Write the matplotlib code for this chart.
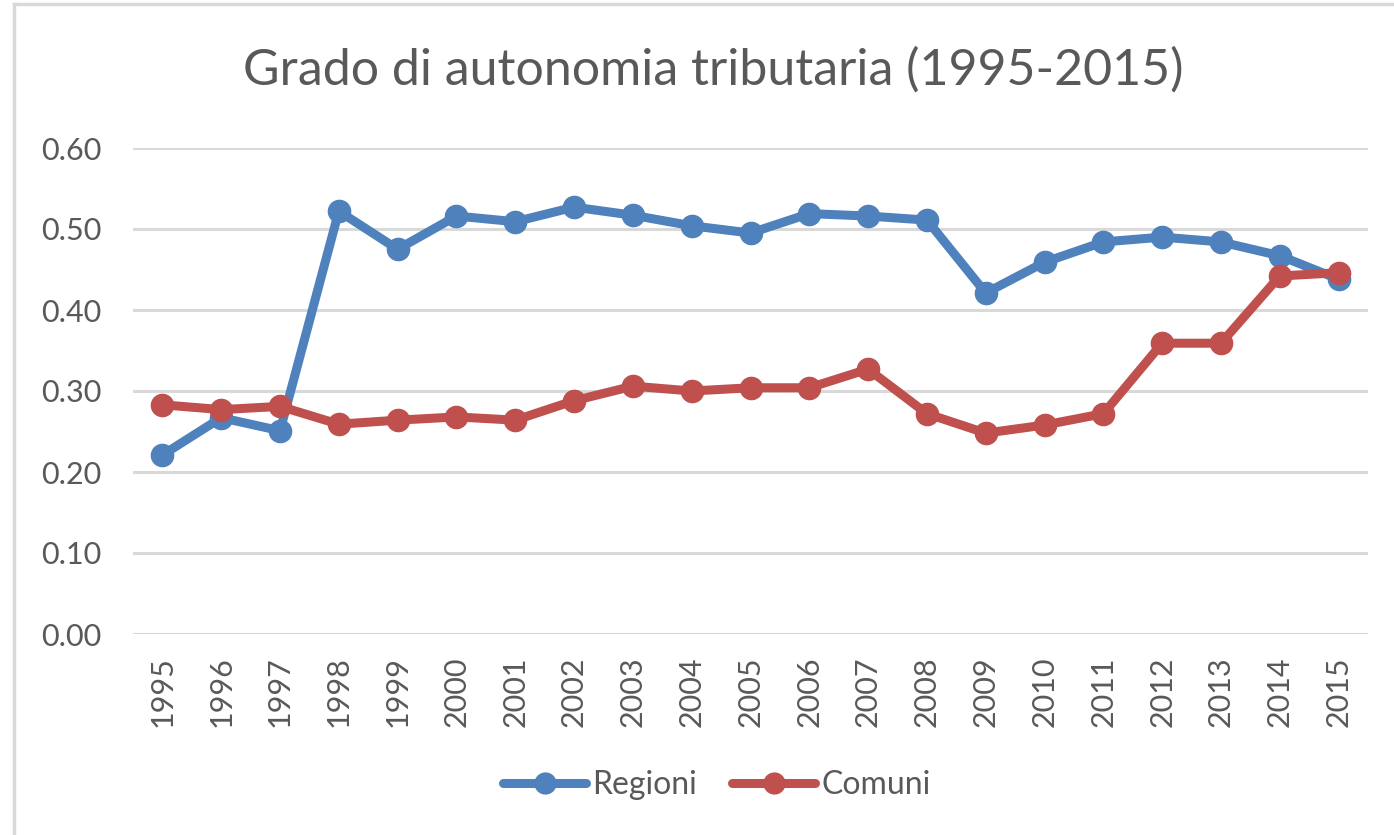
import matplotlib
matplotlib.use("Agg")
import matplotlib.pyplot as plt
from matplotlib.lines import Line2D

years = [str(y) for y in range(1995, 2016)]
regioni = [0.221, 0.267, 0.251, 0.522, 0.475, 0.516, 0.509, 0.527, 0.517, 0.504,
           0.495, 0.519, 0.516, 0.511, 0.421, 0.459, 0.484, 0.490, 0.484, 0.467, 0.438]
comuni = [0.283, 0.277, 0.281, 0.259, 0.264, 0.268, 0.264, 0.288, 0.306, 0.300,
          0.304, 0.304, 0.327, 0.272, 0.248, 0.258, 0.272, 0.359, 0.359, 0.442, 0.446]
yticks = [0.0, 0.1, 0.2, 0.3, 0.4, 0.5, 0.6]
title = "Grado di autonomia tributaria (1995-2015)"
series_names = ["Regioni", "Comuni"]

BLUE = "#4F81BD"
RED = "#C0504D"
TXT = "#595959"
GRID = "#D9D9D9"

plt.rcParams['font.family'] = ['Lato', 'DejaVu Sans']

W, H = 1394, 835
fig = plt.figure(figsize=(W / 100, H / 100), dpi=100)
fig.patch.set_facecolor("white")

left, right, bottom, top = 133 / W, 1368 / W, 1 - 634 / H, 1 - 148 / H
ax = fig.add_axes([left, bottom, right - left, top - bottom])

x = list(range(len(years)))
ax.plot(x, regioni, color=BLUE, lw=6.5, marker="o", ms=16, solid_capstyle="round",
        solid_joinstyle="round", zorder=3, clip_on=False)
ax.plot(x, comuni, color=RED, lw=6.5, marker="o", ms=16, solid_capstyle="round",
        solid_joinstyle="round", zorder=4, clip_on=False)

ax.set_xlim(-0.5, len(years) - 0.5)
ax.set_ylim(0, 0.6)
ax.set_yticks(yticks)
ax.set_yticklabels([f"{v:.2f}" for v in yticks])
ax.set_xticks(x)
ax.set_xticklabels(years, rotation=90)

for s in ax.spines.values():
    s.set_visible(False)
ax.yaxis.grid(True, color=GRID, lw=2.2, zorder=0)
ax.set_axisbelow(True)
ax.tick_params(axis="both", length=0, colors=TXT, labelsize=22)
ax.tick_params(axis="y", pad=23)
ax.tick_params(axis="x", pad=16)

fig.text(0.5 * (243 + 1183) / W, 1 - 85 / H, title, ha="center", va="baseline",
         fontsize=36, color=TXT)

handles = [Line2D([], [], color=BLUE, lw=6.5, marker="o", ms=15, solid_capstyle="round"),
           Line2D([], [], color=RED, lw=6.5, marker="o", ms=15, solid_capstyle="round")]
fig.legend(handles, series_names, loc="center", bbox_to_anchor=(717 / W, 1 - 785 / H),
           ncol=2, frameon=False, fontsize=23, labelcolor=TXT, handlelength=2.6,
           handletextpad=0.2, columnspacing=1.1)

# chart border (top and left visible)
fig.add_artist(Line2D([14 / W, 1], [1 - 4 / H, 1 - 4 / H], color=GRID, lw=2.5,
                      transform=fig.transFigure))
fig.add_artist(Line2D([14 / W, 14 / W], [0, 1 - 4 / H], color=GRID, lw=2.5,
                      transform=fig.transFigure))

fig.savefig("out.png", dpi=100)
